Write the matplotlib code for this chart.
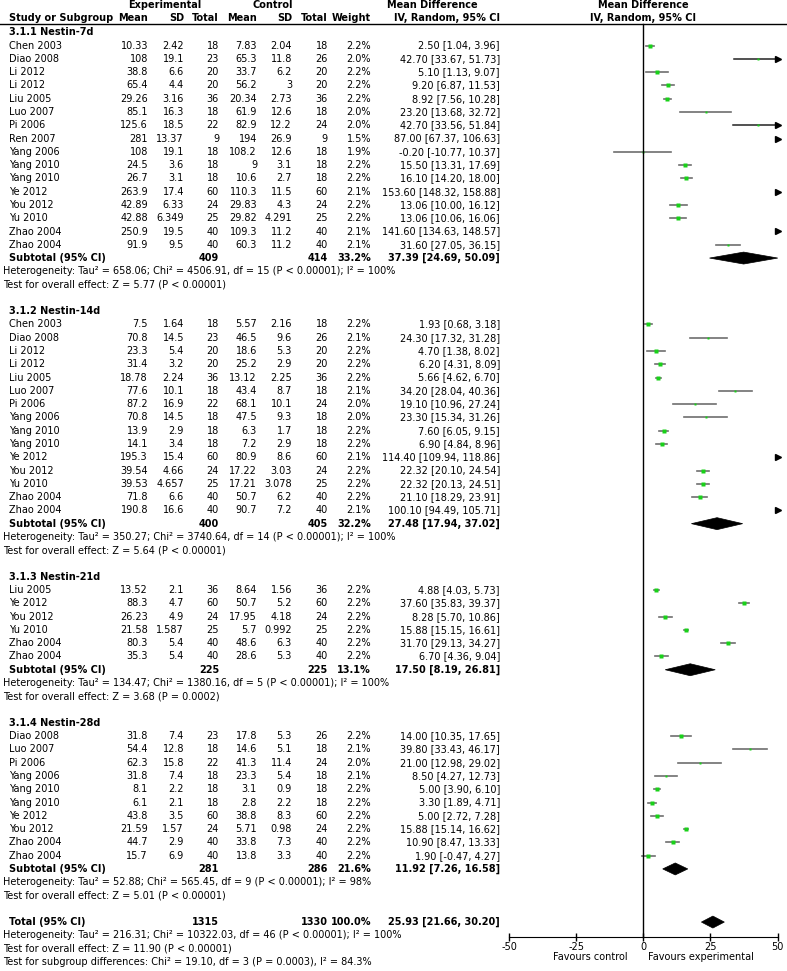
import matplotlib
matplotlib.use("Agg")
import matplotlib.pyplot as plt
from matplotlib.patches import Polygon

plt.rcParams["font.family"] = ["DejaVu Sans"]
plt.rcParams["axes.unicode_minus"] = False

# ---- data ----
group_names = ["3.1.1 Nestin-7d", "3.1.2 Nestin-14d", "3.1.3 Nestin-21d", "3.1.4 Nestin-28d"]
group_sizes = [16, 15, 6, 10]

study = [
    "Chen 2003", "Diao 2008", "Li 2012", "Li 2012", "Liu 2005", "Luo 2007", "Pi 2006", "Ren 2007",
    "Yang 2006", "Yang 2010", "Yang 2010", "Ye 2012", "You 2012", "Yu 2010", "Zhao 2004", "Zhao 2004",
    "Chen 2003", "Diao 2008", "Li 2012", "Li 2012", "Liu 2005", "Luo 2007", "Pi 2006", "Yang 2006",
    "Yang 2010", "Yang 2010", "Ye 2012", "You 2012", "Yu 2010", "Zhao 2004", "Zhao 2004",
    "Liu 2005", "Ye 2012", "You 2012", "Yu 2010", "Zhao 2004", "Zhao 2004",
    "Diao 2008", "Luo 2007", "Pi 2006", "Yang 2006", "Yang 2010", "Yang 2010", "Ye 2012", "You 2012",
    "Zhao 2004", "Zhao 2004",
]
exp_mean = [10.33, 108, 38.8, 65.4, 29.26, 85.1, 125.6, 281, 108, 24.5, 26.7, 263.9, 42.89, 42.88, 250.9, 91.9,
            7.5, 70.8, 23.3, 31.4, 18.78, 77.6, 87.2, 70.8, 13.9, 14.1, 195.3, 39.54, 39.53, 71.8, 190.8,
            13.52, 88.3, 26.23, 21.58, 80.3, 35.3,
            31.8, 54.4, 62.3, 31.8, 8.1, 6.1, 43.8, 21.59, 44.7, 15.7]
exp_sd = [2.42, 19.1, 6.6, 4.4, 3.16, 16.3, 18.5, 13.37, 19.1, 3.6, 3.1, 17.4, 6.33, 6.349, 19.5, 9.5,
          1.64, 14.5, 5.4, 3.2, 2.24, 10.1, 16.9, 14.5, 2.9, 3.4, 15.4, 4.66, 4.657, 6.6, 16.6,
          2.1, 4.7, 4.9, 1.587, 5.4, 5.4,
          7.4, 12.8, 15.8, 7.4, 2.2, 2.1, 3.5, 1.57, 2.9, 6.9]
exp_n = [18, 23, 20, 20, 36, 18, 22, 9, 18, 18, 18, 60, 24, 25, 40, 40,
         18, 23, 20, 20, 36, 18, 22, 18, 18, 18, 60, 24, 25, 40, 40,
         36, 60, 24, 25, 40, 40,
         23, 18, 22, 18, 18, 18, 60, 24, 40, 40]
ctl_mean = [7.83, 65.3, 33.7, 56.2, 20.34, 61.9, 82.9, 194, 108.2, 9, 10.6, 110.3, 29.83, 29.82, 109.3, 60.3,
            5.57, 46.5, 18.6, 25.2, 13.12, 43.4, 68.1, 47.5, 6.3, 7.2, 80.9, 17.22, 17.21, 50.7, 90.7,
            8.64, 50.7, 17.95, 5.7, 48.6, 28.6,
            17.8, 14.6, 41.3, 23.3, 3.1, 2.8, 38.8, 5.71, 33.8, 13.8]
ctl_sd = [2.04, 11.8, 6.2, 3, 2.73, 12.6, 12.2, 26.9, 12.6, 3.1, 2.7, 11.5, 4.3, 4.291, 11.2, 11.2,
          2.16, 9.6, 5.3, 2.9, 2.25, 8.7, 10.1, 9.3, 1.7, 2.9, 8.6, 3.03, 3.078, 6.2, 7.2,
          1.56, 5.2, 4.18, 0.992, 6.3, 5.3,
          5.3, 5.1, 11.4, 5.4, 0.9, 2.2, 8.3, 0.98, 7.3, 3.3]
ctl_n = [18, 26, 20, 20, 36, 18, 24, 9, 18, 18, 18, 60, 24, 25, 40, 40,
         18, 26, 20, 20, 36, 18, 24, 18, 18, 18, 60, 24, 25, 40, 40,
         36, 60, 24, 25, 40, 40,
         26, 18, 24, 18, 18, 18, 60, 24, 40, 40]
weight = [2.2, 2.0, 2.2, 2.2, 2.2, 2.0, 2.0, 1.5, 1.9, 2.2, 2.2, 2.1, 2.2, 2.2, 2.1, 2.1,
          2.2, 2.1, 2.2, 2.2, 2.2, 2.1, 2.0, 2.0, 2.2, 2.2, 2.1, 2.2, 2.2, 2.2, 2.1,
          2.2, 2.2, 2.2, 2.2, 2.2, 2.2,
          2.2, 2.1, 2.0, 2.1, 2.2, 2.2, 2.2, 2.2, 2.2, 2.2]
md = [2.50, 42.70, 5.10, 9.20, 8.92, 23.20, 42.70, 87.00, -0.20, 15.50, 16.10, 153.60, 13.06, 13.06, 141.60, 31.60,
      1.93, 24.30, 4.70, 6.20, 5.66, 34.20, 19.10, 23.30, 7.60, 6.90, 114.40, 22.32, 22.32, 21.10, 100.10,
      4.88, 37.60, 8.28, 15.88, 31.70, 6.70,
      14.00, 39.80, 21.00, 8.50, 5.00, 3.30, 5.00, 15.88, 10.90, 1.90]
ci_lo = [1.04, 33.67, 1.13, 6.87, 7.56, 13.68, 33.56, 67.37, -10.77, 13.31, 14.20, 148.32, 10.00, 10.06, 134.63, 27.05,
         0.68, 17.32, 1.38, 4.31, 4.62, 28.04, 10.96, 15.34, 6.05, 4.84, 109.94, 20.10, 20.13, 18.29, 94.49,
         4.03, 35.83, 5.70, 15.15, 29.13, 4.36,
         10.35, 33.43, 12.98, 4.27, 3.90, 1.89, 2.72, 15.14, 8.47, -0.47]
ci_hi = [3.96, 51.73, 9.07, 11.53, 10.28, 32.72, 51.84, 106.63, 10.37, 17.69, 18.00, 158.88, 16.12, 16.06, 148.57, 36.15,
         3.18, 31.28, 8.02, 8.09, 6.70, 40.36, 27.24, 31.26, 9.15, 8.96, 118.86, 24.54, 24.51, 23.91, 105.71,
         5.73, 39.37, 10.86, 16.61, 34.27, 9.04,
         17.65, 46.17, 29.02, 12.73, 6.10, 4.71, 7.28, 16.62, 13.33, 4.27]

sub_exp_n = [409, 400, 225, 281]
sub_ctl_n = [414, 405, 225, 286]
sub_weight = [33.2, 32.2, 13.1, 21.6]
sub_md = [37.39, 27.48, 17.50, 11.92]
sub_lo = [24.69, 17.94, 8.19, 7.26]
sub_hi = [50.09, 37.02, 26.81, 16.58]
sub_het = [
    "Heterogeneity: Tau² = 658.06; Chi² = 4506.91, df = 15 (P < 0.00001); I² = 100%",
    "Heterogeneity: Tau² = 350.27; Chi² = 3740.64, df = 14 (P < 0.00001); I² = 100%",
    "Heterogeneity: Tau² = 134.47; Chi² = 1380.16, df = 5 (P < 0.00001); I² = 100%",
    "Heterogeneity: Tau² = 52.88; Chi² = 565.45, df = 9 (P < 0.00001); I² = 98%",
]
sub_test = [
    "Test for overall effect: Z = 5.77 (P < 0.00001)",
    "Test for overall effect: Z = 5.64 (P < 0.00001)",
    "Test for overall effect: Z = 3.68 (P = 0.0002)",
    "Test for overall effect: Z = 5.01 (P < 0.00001)",
]

total_exp_n = 1315
total_ctl_n = 1330
total_weight = 100.0
total_md = 25.93
total_lo = 21.66
total_hi = 30.20
total_notes = [
    "Heterogeneity: Tau² = 216.31; Chi² = 10322.03, df = 46 (P < 0.00001); I² = 100%",
    "Test for overall effect: Z = 11.90 (P < 0.00001)",
    "Test for subgroup differences: Chi² = 19.10, df = 3 (P = 0.0003), I² = 84.3%",
]
x_ticks = [-50, -25, 0, 25, 50]

# ---- layout (pixels) ----
W, H = 787, 971
ROW0, ROWH = 32.3, 13.28
FS = 7.0
top_row = -ROW0 / ROWH
bot_row = (H - ROW0) / ROWH
axis_row = (937 - ROW0) / ROWH
head_line_row = (24 - ROW0) / ROWH

col_name = 9
col_note = 3
col_right = [148, 184, 219, 257, 292, 328, 371, 500]

fig = plt.figure(figsize=(W / 100, H / 100), dpi=100)
tax = fig.add_axes([0, 0, 1, 1])
tax.set_xlim(0, W)
tax.set_ylim(bot_row, top_row)
tax.axis("off")

fax = fig.add_axes([509 / W, 0, 268.5 / W, 1])
fax.set_xlim(x_ticks[0], x_ticks[-1])
fax.set_ylim(bot_row, top_row)
fax.patch.set_alpha(0)
for s in ["left", "right", "top"]:
    fax.spines[s].set_visible(False)
fax.spines["bottom"].set_position(("data", axis_row))
fax.set_yticks([])
fax.set_xticks(x_ticks)
fax.tick_params(axis="x", direction="inout", length=6, width=1, labelsize=FS, pad=0.5)


def rtext(x, y, s, bold=False):
    tax.text(x, y, s, ha="right", va="center", fontsize=FS,
             fontweight="bold" if bold else "normal")


def ltext(x, y, s, bold=False):
    tax.text(x, y, s, ha="left", va="center", fontsize=FS,
             fontweight="bold" if bold else "normal")


def ci_text(m, lo, hi):
    return f"{m:.2f} [{lo:.2f}, {hi:.2f}]"


def diamond(m, lo, hi, y):
    fax.add_patch(Polygon([(lo, y), (m, y - 0.45), (hi, y), (m, y + 0.45)],
                          closed=True, facecolor="black", edgecolor="black", lw=0.5))


# headers
hy1 = (5 - ROW0) / ROWH
hy2 = (17.5 - ROW0) / ROWH
tax.text(165, hy1, "Experimental", ha="center", va="center", fontsize=FS, fontweight="bold")
tax.text(273, hy1, "Control", ha="center", va="center", fontsize=FS, fontweight="bold")
rtext(478, hy1, "Mean Difference", bold=True)
tax.text(643, hy1, "Mean Difference", ha="center", va="center", fontsize=FS, fontweight="bold")
ltext(col_name, hy2, "Study or Subgroup", bold=True)
for x, s in zip(col_right, ["Mean", "SD", "Total", "Mean", "SD", "Total", "Weight", "IV, Random, 95% CI"]):
    rtext(x, hy2, s, bold=True)
tax.text(643, hy2, "IV, Random, 95% CI", ha="center", va="center", fontsize=FS, fontweight="bold")
tax.plot([0, W], [head_line_row, head_line_row], color="black", lw=1)

xmax = x_ticks[-1]
r = 0
i = 0
for g, n in enumerate(group_sizes):
    ltext(col_name, r, group_names[g], bold=True)
    r += 1
    for k in range(n):
        vals = [f"{exp_mean[i]:g}", f"{exp_sd[i]:g}", f"{exp_n[i]}", f"{ctl_mean[i]:g}",
                f"{ctl_sd[i]:g}", f"{ctl_n[i]}", f"{weight[i]:.1f}%", ci_text(md[i], ci_lo[i], ci_hi[i])]
        ltext(col_name, r, study[i])
        for x, s in zip(col_right, vals):
            rtext(x, r, s)
        # forest marks
        if ci_lo[i] >= xmax:
            fax.plot([xmax], [r], marker=">", ms=4, color="black", clip_on=False)
        elif ci_hi[i] > xmax:
            fax.plot([ci_lo[i], xmax], [r, r], color="#222222", lw=1.1, clip_on=False)
            fax.plot([xmax], [r], marker=">", ms=4, color="black", clip_on=False)
            fax.plot([md[i]], [r], marker="s", ms=weight[i], color="#19d119", mec="none")
        else:
            fax.plot([ci_lo[i], ci_hi[i]], [r, r], color="#6e6e6e", lw=1.2)
            fax.plot([md[i]], [r], marker="s", ms=weight[i], color="#19d119", mec="none")
        i += 1
        r += 1
    ltext(col_name, r, "Subtotal (95% CI)", bold=True)
    rtext(col_right[2], r, f"{sub_exp_n[g]}", bold=True)
    rtext(col_right[5], r, f"{sub_ctl_n[g]}", bold=True)
    rtext(col_right[6], r, f"{sub_weight[g]:.1f}%", bold=True)
    rtext(col_right[7], r, ci_text(sub_md[g], sub_lo[g], sub_hi[g]), bold=True)
    diamond(sub_md[g], sub_lo[g], sub_hi[g], r)
    ltext(col_note, r + 1, sub_het[g])
    ltext(col_note, r + 2, sub_test[g])
    r += 4

ltext(col_name, r, "Total (95% CI)", bold=True)
rtext(col_right[2], r, f"{total_exp_n}", bold=True)
rtext(col_right[5], r, f"{total_ctl_n}", bold=True)
rtext(col_right[6], r, f"{total_weight:.1f}%", bold=True)
rtext(col_right[7], r, ci_text(total_md, total_lo, total_hi), bold=True)
diamond(total_md, total_lo, total_hi, r)
for k, s in enumerate(total_notes):
    ltext(col_note, r + 1 + k, s)

# zero line
fax.plot([0, 0], [head_line_row, axis_row], color="black", lw=1)

fav_row = (957.3 - ROW0) / ROWH
rtext(628, fav_row, "Favours control")
ltext(648, fav_row, "Favours experimental")

fig.savefig("out.png", dpi=100)
